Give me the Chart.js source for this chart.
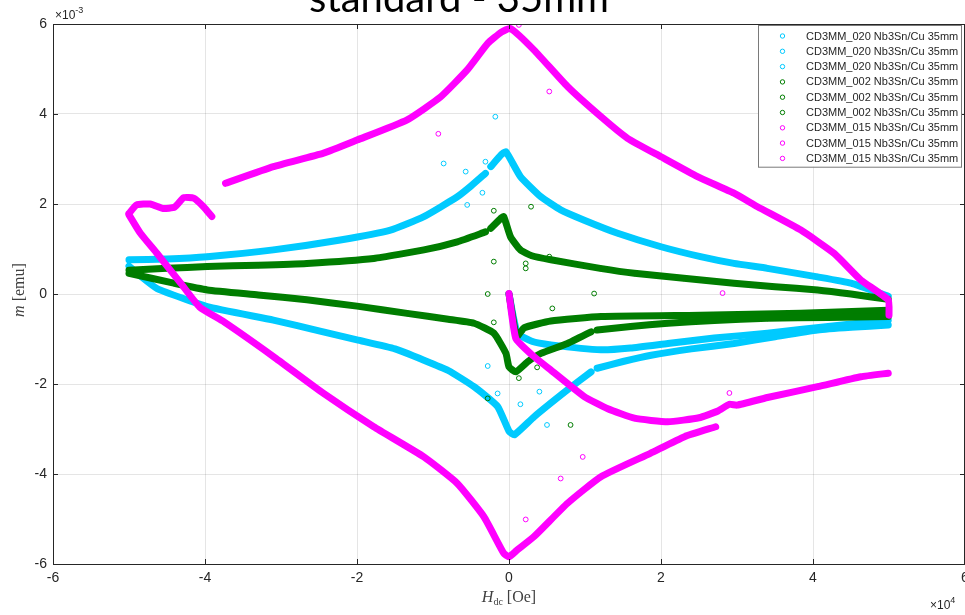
<!DOCTYPE html>
<html>
<head>
<meta charset="utf-8">
<script src="https://cdn.jsdelivr.net/npm/chart.js@4.4.0/dist/chart.umd.min.js"></script>
<style>
html,body{margin:0;padding:0;background:#fff;overflow:hidden}
#wrap{position:relative;width:965px;height:615px}
</style>
</head>
<body>
<div id="wrap"><canvas id="c" width="965" height="615"></canvas></div>
<script>
// H values in units of 1e4 Oe, m values in units of 1e-3 emu
const titleText = 'standard - 35mm';
const sampleLabels = ['CD3MM_020 Nb3Sn/Cu 35mm', 'CD3MM_002 Nb3Sn/Cu 35mm', 'CD3MM_015 Nb3Sn/Cu 35mm'];
const xTicks = [-6, -4, -2, 0, 2, 4, 6];
const yTicks = [-6, -4, -2, 0, 2, 4, 6];

// ---- CD3MM_020 (cyan) ----
const H020_down = [4.99, 4.5, 4.06, 3.4, 2.96, 2.52, 2.0, 1.43, 0.99, 0.68, 0.42, 0.15, -0.04, -0.1, -0.24, null, -0.31, -0.5, -0.68, -1.12, -1.56, -2.22, -3.10, -3.97, -4.5, -5.0];
const m020_down = [-0.05, 0.24, 0.38, 0.57, 0.68, 0.83, 1.05, 1.35, 1.64, 1.87, 2.16, 2.61, 3.16, 3.1, 2.83, null, 2.68, 2.4, 2.16, 1.72, 1.42, 1.2, 0.98, 0.83, 0.78, 0.76];
const H020_up = [-5.0, -4.85, -4.63, -3.97, -3.10, -2.5, -2.0, -1.5, -1.12, -0.8, -0.46, -0.15, 0.0, 0.07, 0.33, 0.77, 1.08, null, 1.16, 1.5, 1.87, 2.4, 2.96, 3.5, 4.06, 4.5, 4.99];
const m020_up = [0.62, 0.4, 0.12, -0.28, -0.58, -0.82, -1.02, -1.22, -1.47, -1.7, -2.06, -2.5, -3.05, -3.13, -2.73, -2.13, -1.73, null, -1.65, -1.5, -1.36, -1.22, -1.1, -0.95, -0.8, -0.74, -0.69];
const H020_init = [0, 0.11, 0.3, 0.55, 1.21, 1.6, 2.09, 2.7, 3.4, 4.2, 4.99];
const m020_init = [0, -0.87, -1.05, -1.13, -1.24, -1.2, -1.1, -0.98, -0.87, -0.72, -0.58];
const H020_out = [-0.18, -0.86, -0.57, -0.31, -0.55, -0.35, -0.28, -0.15, 0.15, 0.5, 0.4];
const m020_out = [3.94, 2.9, 2.72, 2.94, 1.98, 2.25, -1.6, -2.21, -2.45, -2.91, -2.17];

// ---- CD3MM_002 (green) ----
const H002_down = [4.99, 4.5, 4.06, 3.5, 2.96, 2.3, 1.65, 1.2, 0.55, 0.3, 0.15, 0.02, -0.07, -0.12, -0.24, null, -0.31, -0.68, -1.12, -1.78, -2.66, -3.3, -3.97, -4.5, -5.0];
const m002_down = [-0.12, 0.0, 0.09, 0.16, 0.24, 0.35, 0.46, 0.57, 0.76, 0.85, 0.98, 1.27, 1.72, 1.66, 1.46, null, 1.38, 1.16, 0.98, 0.79, 0.68, 0.64, 0.61, 0.57, 0.53];
const H002_up = [-5.0, -4.41, -3.97, -3.3, -2.66, -2.0, -1.34, -0.8, -0.46, -0.2, -0.04, 0.0, 0.09, 0.25, 0.42, 0.77, 1.08, null, 1.16, 1.6, 2.09, 2.7, 3.4, 4.2, 4.99];
const m002_up = [0.46, 0.24, 0.09, -0.02, -0.13, -0.27, -0.43, -0.56, -0.65, -0.87, -1.32, -1.62, -1.73, -1.5, -1.32, -1.1, -0.84, null, -0.8, -0.72, -0.65, -0.59, -0.54, -0.52, -0.5];
const H002_init = [0, 0.1, 0.2, 0.55, 1.21, 2.52, 3.84, 4.99];
const m002_init = [0, -0.95, -0.75, -0.6, -0.5, -0.47, -0.43, -0.36];
const H002_out = [-0.2, -0.2, 0.29, 0.22, 0.22, 0.53, 1.12, -0.28, -0.2, -0.28, 0.57, 0.81, 0.37, 0.13];
const m002_out = [1.85, 0.72, 1.94, 0.68, 0.57, 0.83, 0.01, 0.0, -0.63, -2.32, -0.32, -2.91, -1.63, -1.87];

// ---- CD3MM_015 (magenta) ----
const H015_down = [5.0, 4.99, 4.63, 4.28, 3.84, 3.27, 2.96, 2.48, 2.0, 1.56, 1.21, 0.77, 0.33, 0.02, -0.1, -0.28, -0.55, -0.9, -1.34, -2.0, -2.44, -3.1, -3.73, null, -3.91, -4.02, -4.15, -4.28, -4.4, -4.55, -4.72, -4.9, -5.0];
const m015_down = [-0.47, -0.13, 0.31, 0.9, 1.42, 1.94, 2.24, 2.61, 3.05, 3.46, 3.94, 4.61, 5.42, 5.9, 5.82, 5.57, 4.98, 4.38, 3.87, 3.42, 3.13, 2.83, 2.46, null, 1.72, 1.94, 2.13, 2.14, 1.93, 1.9, 2.0, 1.98, 1.79];
const H015_up = [-5.0, -4.85, -4.63, -4.32, -4.07, -3.75, -3.10, -2.44, -1.78, -1.12, -0.68, -0.33, -0.07, 0.0, 0.1, 0.33, 0.77, 1.21, 1.86, 2.31, 2.72];
const m015_up = [1.76, 1.35, 0.9, 0.24, -0.29, -0.62, -1.39, -2.21, -2.95, -3.62, -4.21, -4.95, -5.76, -5.84, -5.7, -5.39, -4.65, -4.06, -3.54, -3.17, -2.95];
const H015_init = [0, 0.09, 0.3, 0.55, 0.99, 1.3, 1.65, 2.09, 2.5, 2.75, 2.9, 3.0, 3.4, 4.06, 4.63, 4.99];
const m015_init = [0.01, -0.99, -1.35, -1.69, -2.28, -2.55, -2.76, -2.84, -2.75, -2.6, -2.45, -2.47, -2.3, -2.06, -1.84, -1.76];
const H015_out = [-0.93, 0.53, 2.81, 0.13, 0.97, 0.68, 0.22, 2.9];
const m015_out = [3.56, 4.5, 0.02, 5.98, -3.62, -4.1, -5.01, -2.2];

const colCyan = 'rgb(0,202,255)';
const colGreen = 'rgb(0,125,0)';
const colMagenta = 'rgb(255,0,255)';
const AXIS = '#262626';

function pts(H, m) {
  return H.map((h, i) => (h === null || m[i] === null) ? {x: null, y: null} : {x: h, y: m[i]});
}
function branch(label, color, H, m, order) {
  return {
    label, data: pts(H, m), order,
    showLine: true, borderColor: color, borderWidth: 7, tension: 0.15,
    borderJoinStyle: 'round', borderCapStyle: 'round', spanGaps: false,
    pointRadius: 2.5, pointBorderWidth: 1, pointBorderColor: color,
    pointBackgroundColor: 'rgba(255,255,255,0)', pointHoverRadius: 2.5
  };
}
function scatterPts(color, H, m, order) {
  return {
    label: '', isOutlier: true, data: pts(H, m), order, showLine: false,
    pointRadius: 2.4, pointBorderWidth: 1, pointBorderColor: color,
    pointBackgroundColor: 'rgba(255,255,255,0)', borderColor: color
  };
}

const datasets = [
  branch(sampleLabels[0], colCyan, H020_down, m020_down, 2),
  branch(sampleLabels[0], colCyan, H020_up, m020_up, 2),
  branch(sampleLabels[0], colCyan, H020_init, m020_init, 2),
  branch(sampleLabels[1], colGreen, H002_down, m002_down, 1),
  branch(sampleLabels[1], colGreen, H002_up, m002_up, 1),
  branch(sampleLabels[1], colGreen, H002_init, m002_init, 1),
  branch(sampleLabels[2], colMagenta, H015_down, m015_down, 0),
  branch(sampleLabels[2], colMagenta, H015_up, m015_up, 0),
  branch(sampleLabels[2], colMagenta, H015_init, m015_init, 0),
  scatterPts(colCyan, H020_out, m020_out, 2),
  scatterPts(colGreen, H002_out, m002_out, 1),
  scatterPts(colMagenta, H015_out, m015_out, 0)
];

const decor = {
  id: 'decor',
  afterDraw(chart) {
    const {ctx, chartArea: a, scales} = chart;
    const xs = scales.x, ys = scales.y;
    ctx.save();
    // frame top/right + inward ticks
    ctx.strokeStyle = AXIS; ctx.lineWidth = 1;
    ctx.beginPath();
    ctx.moveTo(a.left, a.top + 0.5); ctx.lineTo(a.right, a.top + 0.5);
    ctx.moveTo(a.right - 0.5, a.top); ctx.lineTo(a.right - 0.5, a.bottom);
    xTicks.forEach(v => {
      const px = Math.round(xs.getPixelForValue(v)) + 0.5;
      ctx.moveTo(px, a.bottom); ctx.lineTo(px, a.bottom - 5);
      ctx.moveTo(px, a.top); ctx.lineTo(px, a.top + 5);
    });
    yTicks.forEach(v => {
      const py = Math.round(ys.getPixelForValue(v)) + 0.5;
      ctx.moveTo(a.left, py); ctx.lineTo(a.left + 5, py);
      ctx.moveTo(a.right, py); ctx.lineTo(a.right - 5, py);
    });
    ctx.stroke();

    // legend box
    const items = chart.data.datasets.filter(d => !d.isOutlier);
    const lx = a.right - 207, ly = a.top + 1, lw = 203, rowH = 15.3;
    const lh = items.length * rowH + 4;
    ctx.fillStyle = '#fff';
    ctx.fillRect(lx, ly, lw, lh);
    ctx.strokeStyle = '#7a7a7a';
    ctx.strokeRect(lx + 0.5, ly + 0.5, lw, lh);
    ctx.font = "11px 'Liberation Sans', Arial, sans-serif";
    ctx.textBaseline = 'middle'; ctx.textAlign = 'left';
    items.forEach((d, i) => {
      const cy = ly + 11 + i * rowH;
      ctx.beginPath();
      ctx.strokeStyle = d.borderColor; ctx.lineWidth = 1;
      ctx.arc(lx + 24.5, cy, 2.2, 0, Math.PI * 2);
      ctx.stroke();
      ctx.fillStyle = AXIS;
      ctx.fillText(d.label, lx + 48, cy + 0.5);
    });

    // exponent labels
    ctx.fillStyle = AXIS; ctx.textBaseline = 'alphabetic';
    ctx.font = "12px 'Liberation Sans', Arial, sans-serif";
    ctx.fillText('\u00d710', a.left + 2, a.top - 5);
    let w = ctx.measureText('\u00d710').width;
    ctx.font = "9px 'Liberation Sans', Arial, sans-serif";
    ctx.fillText('-3', a.left + 2 + w, a.top - 11);
    ctx.font = "12px 'Liberation Sans', Arial, sans-serif";
    ctx.fillText('\u00d710', 930, 609);
    w = ctx.measureText('\u00d710').width;
    ctx.font = "9px 'Liberation Sans', Arial, sans-serif";
    ctx.fillText('4', 930 + w, 603);

    // x-axis title: H_dc [Oe]
    const serif = "'Liberation Serif', 'DejaVu Serif', serif";
    const parts = [
      {t: 'H', f: 'italic 16px ' + serif, dy: 0},
      {t: 'dc', f: '10px ' + serif, dy: 3},
      {t: ' [Oe]', f: '16px ' + serif, dy: 0}
    ];
    let total = 0;
    parts.forEach(p => { ctx.font = p.f; p.w = ctx.measureText(p.t).width; total += p.w; });
    let cx = (a.left + a.right) / 2 - total / 2;
    ctx.fillStyle = '#404040';
    parts.forEach(p => { ctx.font = p.f; ctx.fillText(p.t, cx, 602 + p.dy); cx += p.w; });

    // y-axis title: m [emu]
    ctx.save();
    ctx.translate(24, 290);
    ctx.rotate(-Math.PI / 2);
    const yp = [{t: 'm', f: 'italic 16px ' + serif}, {t: ' [emu]', f: '16px ' + serif}];
    total = 0;
    yp.forEach(p => { ctx.font = p.f; p.w = ctx.measureText(p.t).width; total += p.w; });
    cx = -total / 2;
    yp.forEach(p => { ctx.font = p.f; ctx.fillText(p.t, cx, 0); cx += p.w; });
    ctx.restore();

    // cropped slide title
    ctx.fillStyle = '#000';
    ctx.font = "40px Lato, 'Open Sans', sans-serif";
    ctx.textAlign = 'center';
    ctx.fillText(titleText, 459, 12);
    ctx.restore();
  }
};

Chart.defaults.font.family = "'Liberation Sans', Arial, sans-serif";
new Chart(document.getElementById('c'), {
  type: 'scatter',
  data: {datasets},
  options: {
    responsive: false, animation: false, devicePixelRatio: 1,
    layout: {autoPadding: false, padding: {top: 24, right: 0, left: 0, bottom: 0}},
    plugins: {legend: {display: false}, tooltip: {enabled: false}, title: {display: false}},
    scales: {
      x: {
        type: 'linear', min: -6, max: 6,
        afterFit(s) { s.height = 51; s.paddingLeft = 0; s.paddingRight = 0; },
        afterBuildTicks(s) { s.ticks = xTicks.map(v => ({value: v})); },
        ticks: {color: AXIS, font: {size: 14}, padding: 6, maxRotation: 0, autoSkip: false},
        grid: {color: 'rgba(0,0,0,0.1)', drawTicks: false},
        border: {display: true, color: AXIS, width: 1}
      },
      y: {
        type: 'linear', min: -6, max: 6,
        afterFit(s) { s.width = 53; s.paddingTop = 0; s.paddingBottom = 0; },
        afterBuildTicks(s) { s.ticks = yTicks.map(v => ({value: v})); },
        ticks: {color: AXIS, font: {size: 14}, padding: 6, autoSkip: false},
        grid: {color: 'rgba(0,0,0,0.1)', drawTicks: false},
        border: {display: true, color: AXIS, width: 1}
      }
    }
  },
  plugins: [decor]
});
</script>
</body>
</html>
